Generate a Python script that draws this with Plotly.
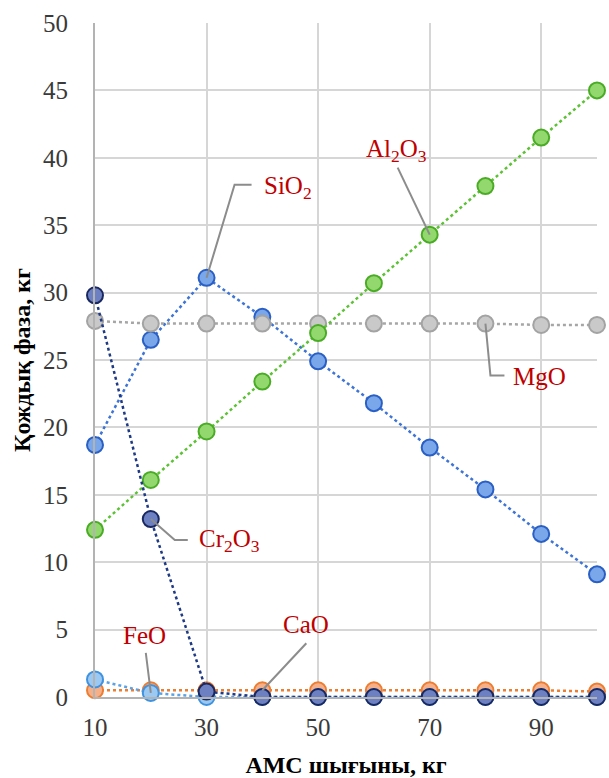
import plotly.graph_objects as go

# ---- data ----
x_vals = [10, 20, 30, 40, 50, 60, 70, 80, 90, 100]
x_ticks = [10, 30, 50, 70, 90]
y_ticks = [0, 5, 10, 15, 20, 25, 30, 35, 40, 45, 50]

sio2 = [18.7, 26.5, 31.1, 28.2, 24.9, 21.8, 18.5, 15.4, 12.1, 9.1]
mgo = [27.9, 27.7, 27.7, 27.7, 27.7, 27.7, 27.7, 27.7, 27.6, 27.6]
al2o3 = [12.4, 16.1, 19.7, 23.4, 27.0, 30.7, 34.3, 37.9, 41.5, 45.0]
cao = [0.5, 0.5, 0.5, 0.5, 0.5, 0.5, 0.5, 0.5, 0.5, 0.4]
feo = [1.3, 0.3, 0.0, 0.0, 0.0, 0.0, 0.0, 0.0, 0.0, 0.0]
cr2o3 = [29.8, 13.2, 0.4, 0.0, 0.0, 0.0, 0.0, 0.0, 0.0, 0.0]

series = [
    ("SiO2", sio2, "#3d74d6", "#7aa6ea", "#2a5fc4"),
    ("MgO", mgo, "#a6a6a6", "#c9c9c9", "#a3a3a3"),
    ("Al2O3", al2o3, "#5cc234", "#93d86e", "#4aac25"),
    ("CaO", cao, "#ed7d31", "#f5b08a", "#ed7d31"),
    ("FeO", feo, "#5aa2e6", "#9cc9f2", "#3f92e0"),
    ("Cr2O3", cr2o3, "#1f3a85", "#6d80c2", "#1a2860"),
]

fig = go.Figure()
for name, vals, lc, fc, oc in series:
    fig.add_trace(go.Scatter(
        x=x_vals, y=vals, name=name, mode="lines+markers",
        line=dict(color=lc, width=2.5, dash="dot"),
        marker=dict(size=16, color=fc, line=dict(color=oc, width=2)),
        cliponaxis=False, showlegend=False,
    ))

label_font = dict(family="Liberation Serif", size=25, color="#c00000")
lead_color = "#8c8c8c"

# label, x index, values, leader path (pixel offsets, up positive), xshift, yshift, xanchor
labels = [
    ("SiO<sub>2</sub>", 2, sio2, "M 0 0 L 28 93 L 45 93", 55, 90, "left"),
    ("Al<sub>2</sub>O<sub>3</sub>", 6, al2o3, "M 0 0 L -32 67", -33, 84, "center"),
    ("MgO", 7, mgo, "M 0 0 L 5 -52 L 19 -52", 26, -53, "left"),
    ("Cr<sub>2</sub>O<sub>3</sub>", 1, cr2o3, "M 0 0 L 24 -21 L 37 -21", 46, -21, "left"),
    ("FeO", 1, feo, "M 0 0 L -5 40", -6, 57, "center"),
    ("CaO", 3, cao, "M 0 0 L 44 47", 44, 66, "center"),
]
for text, i, vals, path, xs, ys, xa in labels:
    fig.add_shape(type="path", xref="x", yref="y",
                  xsizemode="pixel", ysizemode="pixel",
                  xanchor=x_vals[i], yanchor=vals[i], path=path,
                  line=dict(color=lead_color, width=2), layer="above")
    fig.add_annotation(x=x_vals[i], y=vals[i], xref="x", yref="y",
                       text=text, showarrow=False, xshift=xs, yshift=ys,
                       xanchor=xa, yanchor="middle", font=label_font)

tick_font = dict(family="Liberation Serif", size=25, color="#3a3a3a")
title_font = dict(family="Liberation Serif", size=24, color="#000000")

fig.update_layout(
    width=609, height=778,
    margin=dict(l=95, r=12, t=23, b=81),
    paper_bgcolor="white", plot_bgcolor="white",
    xaxis=dict(
        range=[10, 100], tickvals=x_ticks, ticktext=[str(v) for v in x_ticks],
        showgrid=True, gridcolor="#d6d6d6", gridwidth=2,
        showline=True, linecolor="#b3b3b3", linewidth=2,
        zeroline=False, ticks="outside", ticklen=7, tickcolor="rgba(0,0,0,0)",
        tickfont=tick_font, automargin=False,
        title=dict(text="<b>АМС шығыны, кг</b>", font=title_font, standoff=25),
    ),
    yaxis=dict(
        range=[0, 50], tickvals=y_ticks,
        showgrid=True, gridcolor="#d6d6d6", gridwidth=2,
        showline=True, linecolor="#b3b3b3", linewidth=2,
        zeroline=False, ticks="outside", ticklen=20, tickcolor="rgba(0,0,0,0)",
        tickfont=tick_font, automargin=False,
        title=dict(text="<b>Қождық фаза, кг</b>", font=title_font, standoff=6),
    ),
)

fig.write_html("out.html")
